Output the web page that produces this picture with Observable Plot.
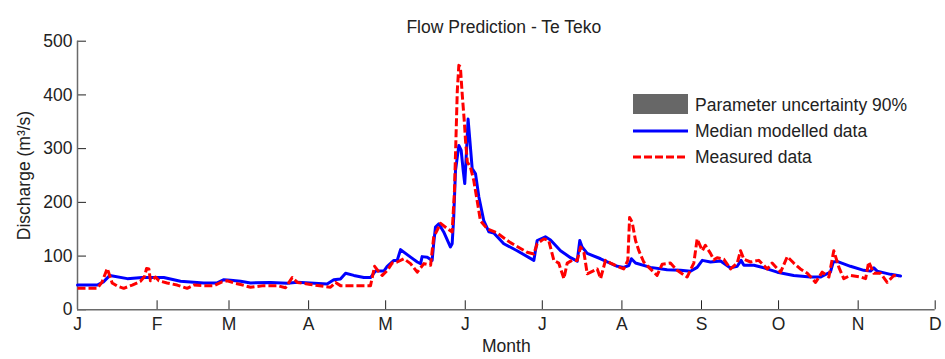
<!DOCTYPE html>
<html>
<head>
<meta charset="utf-8">
<script src="https://cdn.jsdelivr.net/npm/d3@7"></script>
<script src="https://cdn.jsdelivr.net/npm/@observablehq/plot@0.6"></script>
<style>
  html, body { margin: 0; padding: 0; background: #fff; }
  #chart { position: relative; width: 945px; height: 359px; font-family: "Liberation Sans", Arial, sans-serif; }
  #legend { position: absolute; left: 633px; top: 92px; font-size: 17.5px; color: #222; }
  .row { display: flex; align-items: center; height: 26px; }
  .key { width: 55px; margin-right: 7px; position: relative; height: 26px; }
  .patch { position: absolute; left: 0; top: 2px; width: 55px; height: 20px; background: #676767; }
  .key svg { position: absolute; left: 0; top: 0; }
</style>
</head>
<body>
<div id="chart">
  <div id="legend">
    <div class="row"><div class="key"><div class="patch"></div></div><span>Parameter uncertainty 90%</span></div>
    <div class="row"><div class="key"><svg width="55" height="26"><line x1="0" x2="55" y1="13" y2="13" stroke="#0000ff" stroke-width="3"/></svg></div><span>Median modelled data</span></div>
    <div class="row"><div class="key"><svg width="55" height="26"><line x1="0" x2="55" y1="13" y2="13" stroke="#ff0000" stroke-width="3" stroke-dasharray="8,3"/></svg></div><span>Measured data</span></div>
  </div>
</div>
<script>
// Month ticks (day of year at the start of each month)
const months = ["J", "F", "M", "A", "M", "J", "J", "A", "S", "O", "N", "D"];
const monthStartDays = [0, 31, 59, 90, 120, 151, 181, 212, 243, 273, 304, 334];
const flowTicks = [0, 100, 200, 300, 400, 500];

// Median modelled discharge (m³/s) by day of year
const medianDay = [0, 7.7, 10.1, 12.6, 19.4, 25.2, 33.6, 40.1, 49.1, 54.4, 57.0, 59.6, 63.5, 67.4, 75.2, 81.7, 85.6, 97.2, 99.8, 102.4, 104.4, 107.6, 111.5, 114.1, 116.0, 119.3, 120.6, 123.2, 124.5, 125.8, 129.7, 132.3, 133.6, 134.2, 136.2, 138.1, 138.7, 139.4, 140.7, 142.6, 145.2, 145.9, 146.5, 147.2, 148.5, 149.4, 150.2, 150.8, 151.5, 152.1, 152.8, 153.7, 155.0, 156.3, 158.2, 160.2, 162.1, 166.0, 171.2, 177.7, 179.0, 182.2, 184.2, 188.1, 192.0, 194.6, 195.6, 196.5, 198.5, 203.7, 210.2, 212.7, 214.7, 215.7, 217.3, 223.1, 229.6, 234.8, 238.7, 241.3, 243.3, 246.5, 250.4, 254.3, 256.9, 258.4, 259.5, 263.4, 267.3, 272.5, 278.9, 285.4, 289.3, 290.6, 293.2, 294.3, 295.8, 301.0, 306.2, 308.8, 310.1, 311.4, 316.6, 320.5];
const medianFlow = [46, 46, 52, 64, 58, 60, 60, 53, 50, 50, 56, 55, 53, 50, 51, 49.5, 51.5, 48, 56, 57.5, 68, 64, 60, 60, 72, 72, 81, 92, 92, 112, 98, 89, 86, 99, 98, 92, 123, 154, 160, 145, 117, 123, 172, 259, 306, 297, 259, 235, 297, 355, 315, 263, 253, 210, 166, 145, 143, 123, 110, 92, 129, 136, 130, 110, 97, 90.5, 129, 117, 105, 95, 81, 79, 82.5, 95, 87, 79, 74.5, 73.5, 71.7, 79, 92, 89, 91, 78, 81, 92, 83, 83, 78, 70, 64, 61, 61, 64, 70, 89, 90, 81, 73.5, 72, 78, 72, 66, 63];

// Measured discharge (m³/s) by day of year
const measuredDay = [0, 7.7, 9.6, 11.6, 13.5, 15.5, 18.0, 21.3, 24.5, 26.1, 26.9, 27.8, 28.4, 30.4, 31.7, 34.9, 38.8, 42.7, 45.3, 49.2, 53.1, 56.3, 58.3, 60.9, 63.5, 67.4, 72.5, 77.8, 81.0, 83.6, 85.6, 90.7, 98.5, 100.5, 102.4, 108.9, 114.1, 115.7, 117.3, 118.7, 120.6, 122.5, 124.5, 127.1, 129.7, 132.3, 134.9, 137.5, 138.7, 141.4, 144.0, 145.9, 146.8, 147.5, 147.9, 148.5, 149.1, 149.8, 150.7, 151.1, 151.8, 153.0, 154.3, 155.6, 156.9, 159.5, 163.4, 168.6, 175.1, 177.7, 179.0, 181.6, 183.5, 185.5, 187.4, 189.4, 190.7, 192.6, 194.6, 195.9, 197.2, 198.5, 202.4, 203.7, 205.6, 207.6, 210.2, 212.7, 214.3, 215.0, 216.0, 217.3, 218.6, 220.5, 222.5, 225.7, 227.7, 230.9, 233.5, 237.4, 240.0, 241.3, 243.3, 244.5, 246.5, 247.8, 249.1, 251.7, 254.3, 256.9, 258.2, 259.5, 262.1, 265.3, 268.6, 270.5, 273.8, 276.4, 278.9, 281.5, 284.2, 287.4, 290.0, 292.6, 294.5, 296.5, 298.4, 301.0, 304.9, 306.9, 308.1, 310.1, 312.7, 315.3, 317.9, 319.8];
const measuredFlow = [40, 40, 52, 77, 50, 44, 40, 46, 53, 62, 77, 76, 54, 61, 54, 50, 46, 40, 46, 45, 45, 52, 54, 50, 47, 42, 45, 45, 41, 60, 51, 47, 42, 51, 45, 45, 45, 81, 71, 64, 73, 87, 89, 95, 86, 70, 86, 83, 135, 161, 151, 145, 222, 340, 408, 455, 452, 402, 346, 315, 275, 266, 241, 204, 166, 151, 143, 125, 107, 104, 123, 132, 129, 92, 87, 58, 87, 92, 92, 117, 107, 67, 76, 58, 92, 87, 81, 76, 92, 172, 163, 129, 110, 89, 79, 64, 85, 87, 73.5, 61, 87, 132, 110, 120, 105, 93, 97, 94, 76, 87, 110, 94, 89, 92, 76, 87, 70, 99, 87, 76, 68, 51, 70, 61, 110, 79, 58, 64, 61, 58, 89, 68, 68, 51, 64, 61];

const medianIdx = d3.range(medianDay.length);
const measuredIdx = d3.range(measuredDay.length);

const chart = Plot.plot({
  width: 945,
  height: 359,
  marginLeft: 77,
  marginRight: 10.3,
  marginTop: 40.7,
  marginBottom: 49.7,
  style: {fontFamily: "Liberation Sans, Arial, sans-serif", fontSize: "17.5px", color: "#222", background: "white"},
  x: {domain: [0, 334], label: null},
  y: {domain: [0, 500], label: null},
  marks: [
    Plot.axisY(flowTicks, {tickSize: -9, tickPadding: 14, stroke: "#222", label: null}),
    Plot.axisX(monthStartDays, {tickSize: -9, tickPadding: 17, stroke: "#222", label: null,
      tickFormat: d => months[monthStartDays.indexOf(d)]}),
    Plot.ruleX([0], {stroke: "#6a6a6a", strokeWidth: 1.5}),
    Plot.ruleY([0], {stroke: "#6a6a6a", strokeWidth: 1.5}),
    Plot.line(medianIdx, {x: i => medianDay[i], y: i => medianFlow[i], stroke: "#0000ff", strokeWidth: 3, strokeLinejoin: "round"}),
    Plot.line(measuredIdx, {x: i => measuredDay[i], y: i => measuredFlow[i], stroke: "#ff0000", strokeWidth: 3, strokeDasharray: "8,3", strokeLinecap: "butt", strokeLinejoin: "round"}),
    Plot.text(["Flow Prediction - Te Teko"], {frameAnchor: "top", dy: -20.4, dx: -2.5, fill: "#222"}),
    Plot.text(["Discharge (m³/s)"], {frameAnchor: "left", textAnchor: "middle", dx: -53, rotate: -90, fill: "#222"}),
    Plot.text(["Month"], {frameAnchor: "bottom", dy: 42.5, fill: "#222"})
  ]
});
document.getElementById("chart").prepend(chart);
</script>
</body>
</html>
